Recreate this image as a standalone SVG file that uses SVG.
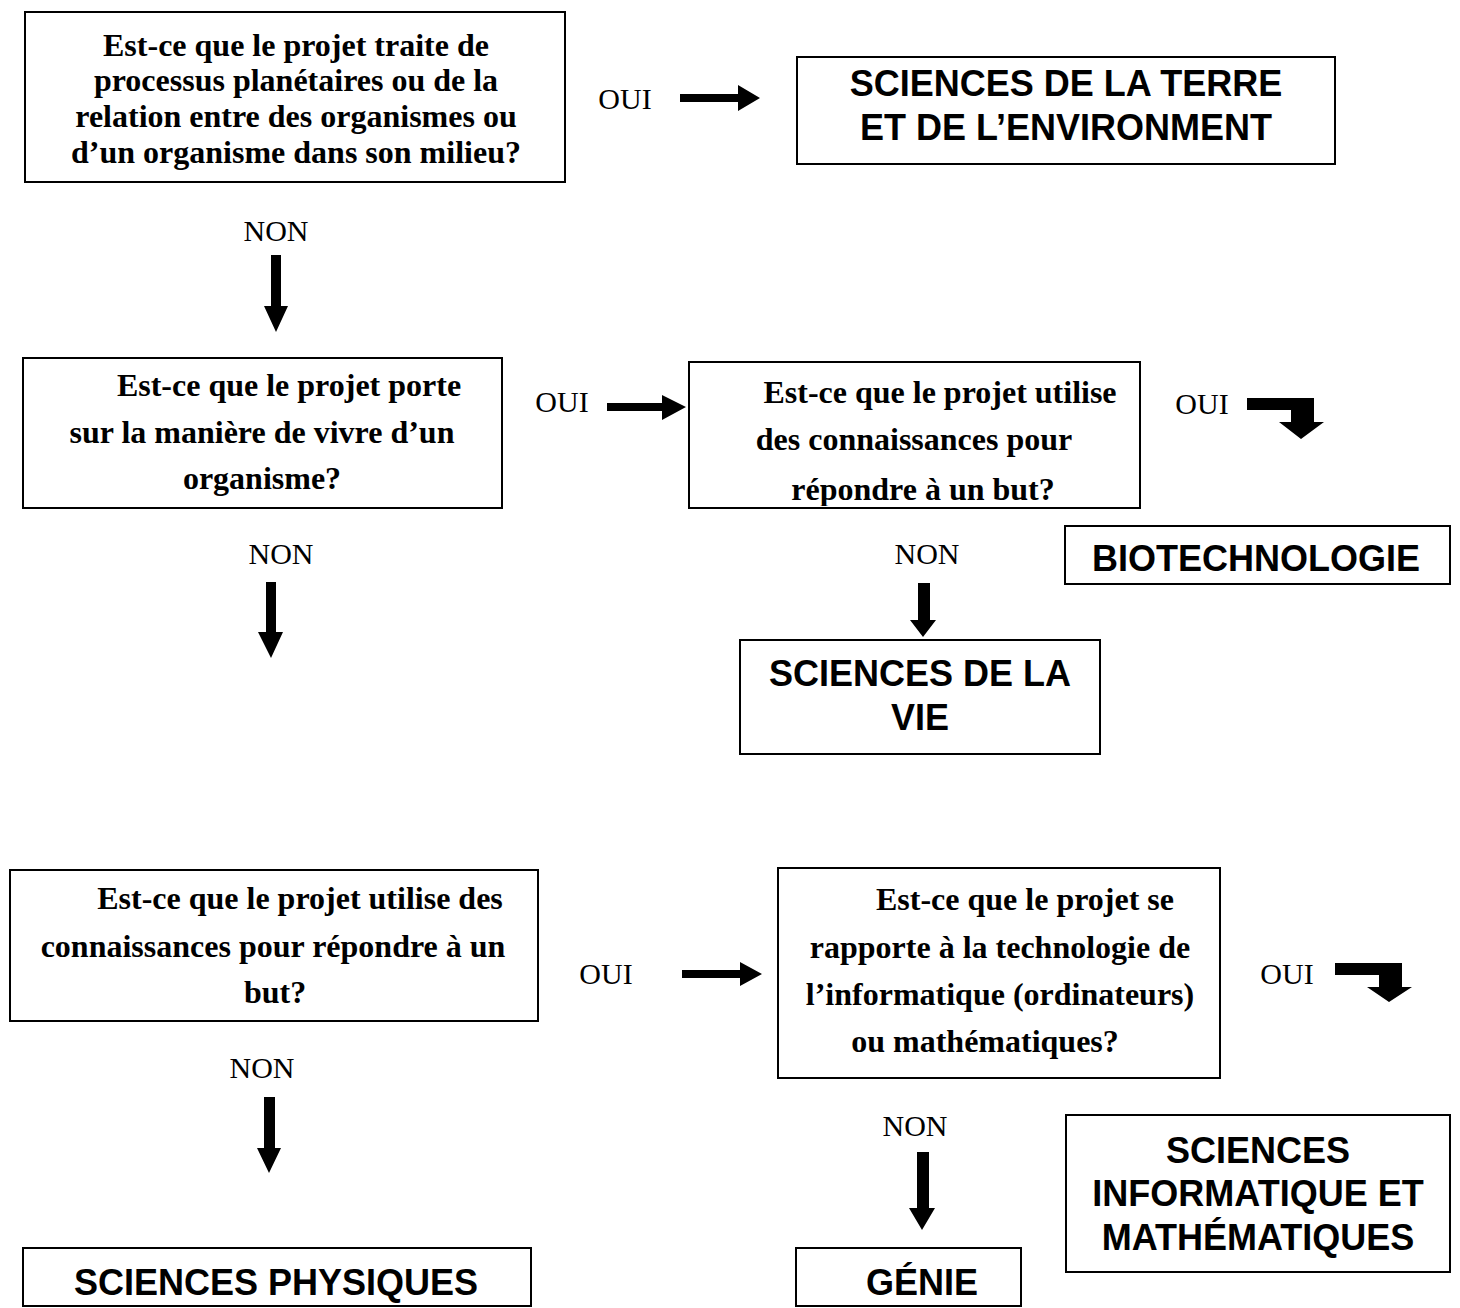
<svg xmlns="http://www.w3.org/2000/svg" width="1460" height="1308" viewBox="0 0 1460 1308">
<style>
.box{fill:#fff;stroke:#000;stroke-width:2}
.q{font-family:"Liberation Serif","Times New Roman",serif;font-weight:bold;font-size:32px;text-anchor:middle;fill:#000}
.c{font-family:"Liberation Sans",Arial,sans-serif;font-weight:bold;font-size:36px;text-anchor:middle;fill:#000}
.l{font-family:"Liberation Serif","Times New Roman",serif;font-size:30px;text-anchor:middle;fill:#000}
.ar{fill:#000;stroke:none}
</style>
<defs>
<clipPath id="clip3"><rect x="689" y="362" width="451" height="144"/></clipPath>
</defs>
<rect width="1460" height="1308" fill="#fff"/>

<g id="q1">
<rect class="box" x="25" y="12" width="540" height="170"/>
<text class="q" x="296" y="56">Est-ce que le projet traite de</text>
<text class="q" x="296" y="91">processus planétaires ou de la</text>
<text class="q" x="296" y="127">relation entre des organismes ou</text>
<text class="q" x="296" y="163">d’un organisme dans son milieu?</text>
</g>

<g id="terre">
<rect class="box" x="797" y="57" width="538" height="107"/>
<text class="c" x="1066" y="96">SCIENCES DE LA TERRE</text>
<text class="c" x="1066" y="140">ET DE L’ENVIRONMENT</text>
</g>

<g id="q2">
<rect class="box" x="23" y="358" width="479" height="150"/>
<text class="q" x="289" y="396">Est-ce que le projet porte</text>
<text class="q" x="262" y="443">sur la manière de vivre d’un</text>
<text class="q" x="262" y="489">organisme?</text>
</g>

<g id="q3">
<rect class="box" x="689" y="362" width="451" height="146"/>
<g clip-path="url(#clip3)">
<text class="q" x="940" y="403">Est-ce que le projet utilise</text>
<text class="q" x="914" y="450">des connaissances pour</text>
<text class="q" x="923" y="500">répondre à un but?</text>
</g>
</g>

<g id="biotech">
<rect class="box" x="1065" y="526" width="385" height="58"/>
<text class="c" x="1256" y="571">BIOTECHNOLOGIE</text>
</g>

<g id="vie">
<rect class="box" x="740" y="640" width="360" height="114"/>
<text class="c" x="920" y="686">SCIENCES DE LA</text>
<text class="c" x="920" y="730">VIE</text>
</g>

<g id="q4">
<rect class="box" x="10" y="870" width="528" height="151"/>
<text class="q" x="300" y="909">Est-ce que le projet utilise des</text>
<text class="q" x="273" y="957">connaissances pour répondre à un</text>
<text class="q" x="275" y="1003">but?</text>
</g>

<g id="q5">
<rect class="box" x="778" y="868" width="442" height="210"/>
<text class="q" x="1025" y="910">Est-ce que le projet se</text>
<text class="q" x="1000" y="958">rapporte à la technologie de</text>
<text class="q" x="1000" y="1005">l’informatique (ordinateurs)</text>
<text class="q" x="985" y="1052">ou mathématiques?</text>
</g>

<g id="sim">
<rect class="box" x="1066" y="1115" width="384" height="157"/>
<text class="c" x="1258" y="1163">SCIENCES</text>
<text class="c" x="1258" y="1206">INFORMATIQUE ET</text>
<text class="c" x="1258" y="1250">MATHÉMATIQUES</text>
</g>

<g id="physiques">
<rect class="box" x="23" y="1248" width="508" height="58"/>
<text class="c" x="276" y="1295">SCIENCES PHYSIQUES</text>
</g>

<g id="genie">
<rect class="box" x="796" y="1248" width="225" height="58"/>
<text class="c" x="922" y="1295">GÉNIE</text>
</g>

<g id="connectors">
<text class="l" x="625" y="109">OUI</text>
<polygon class="ar" points="680,94 738,94 738,85 760,98 738,111 738,102 680,102"/>

<text class="l" x="276" y="241">NON</text>
<polygon class="ar" points="271,255 281,255 281,306 288,306 276,332 264,306 271,306"/>

<text class="l" x="562" y="412">OUI</text>
<polygon class="ar" points="607,403 662,403 662,395 686,407 662,420 662,411 607,411"/>

<text class="l" x="1202" y="414">OUI</text>
<polygon class="ar" points="1247,398 1314,398 1314,422 1324,422 1301,439 1279,422 1291,422 1291,410 1247,410"/>

<text class="l" x="281" y="564">NON</text>
<polygon class="ar" points="266,582 276,582 276,632 283,632 271,658 258,632 266,632"/>

<text class="l" x="927" y="564">NON</text>
<polygon class="ar" points="918,583 930,583 930,620 936,620 923,637 910,620 918,620"/>

<text class="l" x="606" y="984">OUI</text>
<polygon class="ar" points="682,970 740,970 740,962 762,974 740,986 740,978 682,978"/>

<text class="l" x="1287" y="984">OUI</text>
<polygon class="ar" points="1335,963 1402,963 1402,987 1412,987 1389,1002 1367,987 1379,987 1379,975 1335,975"/>

<text class="l" x="262" y="1078">NON</text>
<polygon class="ar" points="264,1097 275,1097 275,1148 281,1148 269,1173 257,1148 264,1148"/>

<text class="l" x="915" y="1136">NON</text>
<polygon class="ar" points="917,1152 929,1152 929,1208 935,1208 922,1230 909,1208 917,1208"/>
</g>
</svg>
